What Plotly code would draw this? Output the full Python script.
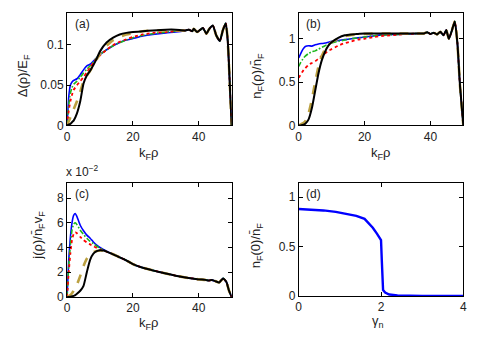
import plotly.graph_objects as go

# ---------------- data ----------------
# panels (a),(b): common head grid, kF*rho
x_head = [0, 0.5, 1, 1.5, 2, 3, 4, 5, 6, 7, 8, 9, 10, 12, 14, 16, 18, 20, 23, 26, 30, 33]

a_blue  = [0, 0.035, 0.050, 0.054, 0.056, 0.058, 0.063, 0.069, 0.074, 0.076, 0.080, 0.084, 0.088, 0.094, 0.099, 0.103, 0.106, 0.108, 0.111, 0.113, 0.115, 0.116]
a_green = [0, 0.025, 0.040, 0.047, 0.051, 0.055, 0.060, 0.065, 0.070, 0.074, 0.079, 0.084, 0.088, 0.094, 0.099, 0.103, 0.106, 0.109, 0.112, 0.114, 0.116, 0.117]
a_red   = [0, 0.018, 0.030, 0.038, 0.044, 0.050, 0.055, 0.060, 0.066, 0.072, 0.078, 0.083, 0.087, 0.094, 0.100, 0.104, 0.107, 0.110, 0.113, 0.115, 0.116, 0.117]
a_olive = [0, 0.005, 0.010, 0.015, 0.020, 0.030, 0.042, 0.055, 0.062, 0.068, 0.075, 0.082, 0.089, 0.099, 0.106, 0.110, 0.113, 0.115, 0.117, 0.118, 0.118, 0.118]
a_black = [0, 0.001, 0.002, 0.004, 0.006, 0.015, 0.030, 0.052, 0.062, 0.068, 0.075, 0.083, 0.092, 0.103, 0.109, 0.113, 0.115, 0.116, 0.117, 0.118, 0.119, 0.119]
x_tail_a = [36, 37, 38, 38.5, 39.5, 40.5, 41.3, 42.3, 43.2, 44.3, 45.3, 46.4, 47.3, 48.2, 48.8, 49.5, 50]
a_tail   = [0.118, 0.119, 0.117, 0.120, 0.116, 0.119, 0.121, 0.114, 0.120, 0.124, 0.112, 0.105, 0.118, 0.127, 0.105, 0.045, 0.0]

b_blue  = [0.78, 0.82, 0.86, 0.89, 0.91, 0.92, 0.915, 0.93, 0.94, 0.945, 0.95, 0.96, 0.97, 0.98, 0.99, 1.0, 1.01, 1.02, 1.035, 1.045, 1.05, 1.055]
b_green = [0.68, 0.72, 0.75, 0.78, 0.80, 0.83, 0.85, 0.86, 0.88, 0.90, 0.92, 0.935, 0.95, 0.97, 0.985, 1.0, 1.01, 1.02, 1.035, 1.045, 1.05, 1.055]
b_red   = [0.55, 0.58, 0.61, 0.64, 0.66, 0.70, 0.72, 0.74, 0.77, 0.80, 0.83, 0.86, 0.88, 0.92, 0.95, 0.97, 0.99, 1.0, 1.02, 1.035, 1.045, 1.055]
b_olive = [0.0, 0.01, 0.02, 0.03, 0.05, 0.14, 0.30, 0.50, 0.68, 0.80, 0.88, 0.93, 0.96, 1.0, 1.03, 1.045, 1.05, 1.055, 1.06, 1.06, 1.06, 1.06]
b_black = [0.0, 0.0, 0.005, 0.01, 0.02, 0.07, 0.20, 0.40, 0.60, 0.75, 0.85, 0.92, 0.96, 1.01, 1.04, 1.05, 1.055, 1.06, 1.06, 1.06, 1.06, 1.06]
x_tail_b = [36, 38, 39, 40, 41, 42, 43, 44, 44.8, 45.6, 46.4, 47.4, 48.2, 49, 50]
b_tail   = [1.06, 1.06, 1.075, 1.055, 1.07, 1.05, 1.08, 1.04, 1.10, 1.00, 1.08, 1.20, 0.95, 0.45, 0.0]

# panel (c): current, units of 1e-2
x_head_c = [0, 0.5, 1, 1.5, 2, 2.5, 3, 4, 5, 6, 7, 8, 9, 10, 11, 12]
c_blue  = [0, 3.0, 4.8, 6.0, 6.6, 6.75, 6.5, 5.8, 5.35, 5.0, 4.75, 4.45, 4.2, 4.0, 3.85, 3.7]
c_green = [0, 2.5, 4.2, 5.4, 5.9, 6.0, 5.85, 5.4, 5.05, 4.75, 4.5, 4.3, 4.1, 3.95, 3.8, 3.68]
c_red   = [0, 2.0, 3.5, 4.6, 5.1, 5.25, 5.15, 4.85, 4.6, 4.4, 4.25, 4.1, 3.97, 3.85, 3.75, 3.66]
c_olive = [0, 0.05, 0.15, 0.3, 0.5, 0.75, 1.0, 1.7, 2.5, 3.1, 3.45, 3.62, 3.72, 3.76, 3.74, 3.66]
c_black = [0, 0.0, 0.02, 0.05, 0.08, 0.15, 0.25, 0.5, 0.9, 2.0, 3.0, 3.5, 3.7, 3.78, 3.76, 3.67]
x_tail_c = [14, 16, 18, 20, 22.5, 26, 30, 33, 36, 38, 40, 42, 43, 44, 45, 46.2, 47.4, 48.4, 49.2, 50]
c_tail   = [3.45, 3.2, 2.95, 2.65, 2.4, 2.15, 1.9, 1.72, 1.57, 1.5, 1.42, 1.38, 1.33, 1.36, 1.28, 1.17, 1.5, 1.2, 0.5, 0.0]

# panel (d)
x_d = [0, 0.3, 0.6, 0.9, 1.2, 1.4, 1.6, 1.7, 1.8, 1.9, 2.0, 2.02, 2.05, 2.1, 2.2, 2.4, 2.6, 3.0, 3.5, 4.0]
y_d = [0.88, 0.875, 0.865, 0.85, 0.83, 0.81, 0.78, 0.74, 0.69, 0.63, 0.565, 0.35, 0.06, 0.035, 0.015, 0.006, 0.003, 0.001, 0.0, 0.0]

# ---------------- styles ----------------
W, H = 490, 349
styles = [
    ("blue", "#0000FF", "solid", 1.6),
    ("green", "#1DB81D", "5px,2px,1.5px,2px", 1.6),
    ("red", "#FF0000", "dot", 1.8),
    ("olive", "#BBA040", "dash", 2.6),
    ("black", "#000000", "solid", 2.0),
]

def px_x(p):
    return p / W

def px_y(p):
    return 1 - p / H

fig = go.Figure()

panels = {
    "a": (x_head, [a_blue, a_green, a_red, a_olive, a_black], x_tail_a, a_tail, "x", "y"),
    "b": (x_head, [b_blue, b_green, b_red, b_olive, b_black], x_tail_b, b_tail, "x2", "y2"),
    "c": (x_head_c, [c_blue, c_green, c_red, c_olive, c_black], x_tail_c, c_tail, "x3", "y3"),
}
for key, (xh, series, xt, yt, xa, ya) in panels.items():
    for (name, col, dash, w), ys in zip(styles, series):
        fig.add_trace(go.Scatter(
            x=xh + xt, y=ys + yt, mode="lines", xaxis=xa, yaxis=ya,
            line=dict(color=col, dash=dash, width=w, shape="spline", smoothing=0.5),
            showlegend=False, hoverinfo="skip"))

fig.add_trace(go.Scatter(x=x_d, y=y_d, mode="lines", xaxis="x4", yaxis="y4",
                         line=dict(color="#0000FF", width=2.4), showlegend=False,
                         hoverinfo="skip"))

font_family = "Liberation Sans, Arial, sans-serif"
tick_font = dict(family=font_family, size=12, color="#222222")

def ax(dom, rng, tickvals, ticktext=None, anchor=None):
    d = dict(domain=dom, range=rng, tickvals=tickvals, showline=True, mirror="ticks",
             linecolor="black", linewidth=1, ticks="inside", ticklen=4, tickcolor="black",
             showgrid=False, zeroline=False, tickfont=tick_font, anchor=anchor,
             fixedrange=True)
    if ticktext is not None:
        d["ticktext"] = ticktext
    return d

xd_left = [px_x(65), px_x(232)]
xd_right = [px_x(300), px_x(467)]
yd_top = [px_y(128), px_y(13)]
yd_bot = [px_y(303), px_y(187)]
yd_bot_d = [px_y(302), px_y(187)]

fig.update_layout(
    width=W, height=H, margin=dict(l=0, r=0, t=0, b=0),
    paper_bgcolor="white", plot_bgcolor="white", hovermode=False,
    xaxis=ax(xd_left, [0, 50], [0, 20, 40], anchor="y"),
    yaxis=ax(yd_top, [0, 0.14], [0, 0.05, 0.1], ["0", "0.05", "0.1"], anchor="x"),
    xaxis2=ax(xd_right, [0, 50], [0, 20, 40], anchor="y2"),
    yaxis2=ax(yd_top, [0, 1.3], [0, 0.5, 1], ["0", "0.5", "1"], anchor="x2"),
    xaxis3=ax(xd_left, [0, 50], [0, 20, 40], anchor="y3"),
    yaxis3=ax(yd_bot, [0, 9.2], [0, 2, 4, 6, 8], anchor="x3"),
    xaxis4=ax(xd_right, [0, 4], [0, 2, 4], anchor="y4"),
    yaxis4=ax(yd_bot_d, [0, 1.14], [0, 0.5, 1], ["0", "0.5", "1"], anchor="x4"),
)

lab_font = dict(family=font_family, size=13, color="#222222")
pan_font = dict(family=font_family, size=12, color="#222222")

def ann(text, x, y, angle=0, font=lab_font, xanchor="center", yanchor="middle"):
    fig.add_annotation(text=text, x=px_x(x), y=px_y(y), xref="paper", yref="paper",
                       showarrow=False, textangle=angle, font=font,
                       xanchor=xanchor, yanchor=yanchor)

nbar = "n\u0304"
ann("k<sub>F</sub>\u03c1", 148, 157)
ann("k<sub>F</sub>\u03c1", 383, 157)
ann("k<sub>F</sub>\u03c1", 148, 330)
ann("\u03b3<sub>n</sub>", 380, 328)
ann("\u0394(\u03c1)/E<sub>F</sub>", 21, 77, angle=-90)
ann("n<sub>F</sub>(\u03c1)/" + nbar + "<sub>F</sub>", 258, 77, angle=-90)
ann("j(\u03c1)/" + nbar + "<sub>F</sub>v<sub>F</sub>", 36, 240, angle=-90)
ann("n<sub>F</sub>(0)/" + nbar + "<sub>F</sub>", 258, 250, angle=-90)

ann("(a)", 71, 25, font=pan_font, xanchor="left")
ann("(b)", 305, 25, font=pan_font, xanchor="left")
ann("(c)", 71, 198, font=pan_font, xanchor="left")
ann("(d)", 305, 198, font=pan_font, xanchor="left")
ann("x 10<sup>\u22122</sup>", 62, 175, font=dict(family=font_family, size=12, color="#222222"), xanchor="left")

fig.write_html("out.html", config={"displayModeBar": False, "staticPlot": True},
               post_script="document.body.style.margin='0';document.body.style.overflow='hidden';")
